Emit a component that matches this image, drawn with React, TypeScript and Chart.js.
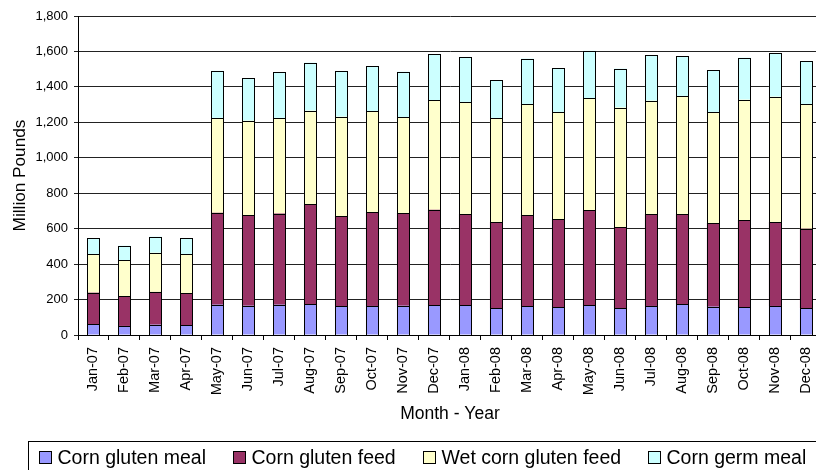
import React, { useEffect, useRef } from "react";
import { Chart, registerables } from "chart.js";

Chart.register(...registerables);

const categories = [
  "Jan-07", "Feb-07", "Mar-07", "Apr-07", "May-07", "Jun-07", "Jul-07", "Aug-07",
  "Sep-07", "Oct-07", "Nov-07", "Dec-07", "Jan-08", "Feb-08", "Mar-08", "Apr-08",
  "May-08", "Jun-08", "Jul-08", "Aug-08", "Sep-08", "Oct-08", "Nov-08", "Dec-08",
];

const cornGlutenMeal = [60, 51, 58, 55, 171, 165, 171, 175, 162, 164, 165, 169, 167, 152, 162, 156, 167, 152, 164, 175, 160, 158, 164, 151];
const cornGlutenFeed = [179, 169, 185, 182, 519, 512, 514, 562, 509, 530, 523, 538, 516, 486, 515, 499, 536, 457, 517, 506, 472, 491, 474, 449];
const wetCornGlutenFeed = [218, 203, 221, 218, 535, 532, 540, 529, 561, 570, 542, 617, 632, 585, 625, 602, 634, 674, 641, 668, 625, 679, 707, 702];
const cornGermMeal = [90, 81, 91, 91, 266, 241, 257, 271, 258, 252, 256, 262, 254, 216, 258, 248, 267, 220, 258, 225, 237, 237, 245, 242];

const yTicks = [0, 200, 400, 600, 800, 1000, 1200, 1400, 1600, 1800];

const FONT = "'Liberation Sans', Arial, sans-serif";

// crisp 1px outlines around every bar segment, taken from the bar elements Chart.js laid out
const outlinePlugin = {
  id: "barOutline",
  afterDatasetsDraw(chart: any) {
    const ctx = chart.ctx;
    ctx.save();
    ctx.strokeStyle = "#000";
    ctx.lineWidth = 1;
    chart.data.datasets.forEach((_: any, i: number) => {
      const meta = chart.getDatasetMeta(i);
      meta.data.forEach((el: any) => {
        const { x, y, base, width } = el.getProps(["x", "y", "base", "width"], true);
        const l = Math.round(x - width / 2) + 0.5;
        const r = Math.round(x + width / 2) - 0.5;
        const t = Math.round(Math.min(y, base)) + 0.5;
        const b = Math.round(Math.max(y, base)) + 0.5;
        ctx.strokeRect(l, t, r - l, b - t);
      });
    });
    ctx.restore();
  },
};

const legendPlugin = {
  id: "boxLegend",
  afterDraw(chart: any) {
    const ctx = chart.ctx;
    ctx.save();
    ctx.strokeStyle = "#000";
    ctx.lineWidth = 1;
    ctx.strokeRect(28.5, 441.5, chart.width, 60);
    ctx.font = `19.5px ${FONT}`;
    ctx.textBaseline = "alphabetic";
    ctx.textAlign = "left";
    let x = 39.5;
    chart.data.datasets.forEach((ds: any) => {
      ctx.fillStyle = ds.backgroundColor;
      ctx.fillRect(x, 451.5, 12, 12);
      ctx.strokeStyle = "#000";
      ctx.strokeRect(x, 451.5, 12, 12);
      ctx.fillStyle = "#000";
      const tx = x + 18;
      ctx.fillText(ds.label, tx, 464);
      const w = ctx.measureText(ds.label).width;
      x = Math.round(tx + w + 27) + 0.5;
    });
    ctx.restore();
  },
};

export default function App() {
  const ref = useRef<HTMLCanvasElement | null>(null);

  useEffect(() => {
    if (!ref.current) return;
    Chart.defaults.font.family = FONT;
    Chart.defaults.color = "#000";
    const common = {
      borderWidth: 0,
      inflateAmount: 0,
      barThickness: 13,
    };
    const chart = new Chart(ref.current, {
      type: "bar",
      data: {
        labels: categories,
        datasets: [
          { label: "Corn gluten meal", data: cornGlutenMeal, backgroundColor: "#9999FF", ...common },
          { label: "Corn gluten feed", data: cornGlutenFeed, backgroundColor: "#993366", ...common },
          { label: "Wet corn gluten feed", data: wetCornGlutenFeed, backgroundColor: "#FFFFCC", ...common },
          { label: "Corn germ meal", data: cornGermMeal, backgroundColor: "#CCFFFF", ...common },
        ],
      },
      options: {
        animation: false,
        responsive: false,
        maintainAspectRatio: false,
        layout: { padding: { left: 0, right: 9, top: 16, bottom: 40 } },
        plugins: { legend: { display: false }, tooltip: { enabled: false } },
        scales: {
          x: {
            stacked: true,
            grid: { display: true, drawOnChartArea: false, drawTicks: true, tickLength: 5, color: "#000", offset: true },
            border: { display: true, color: "#000", width: 1 },
            ticks: { maxRotation: 90, minRotation: 90, padding: 7, autoSkip: false, font: { size: 14.5 }, color: "#000" },
            title: { display: true, text: "Month - Year", font: { size: 17.5 }, color: "#000", padding: { top: 4, bottom: 5 } },
            afterFit: (scale: any) => { scale.height = 95; },
          },
          y: {
            stacked: true,
            min: 0,
            max: 1800,
            afterBuildTicks: (scale: any) => { scale.ticks = yTicks.map((v) => ({ value: v })); },
            grid: { color: "#222", lineWidth: 1, drawTicks: true, tickLength: 4 },
            border: { display: true, color: "#000", width: 1 },
            ticks: { padding: 6, font: { size: 13 }, color: "#000", callback: (v: any) => Number(v).toLocaleString("en-US") },
            title: { display: true, text: "Million Pounds", font: { size: 17.2 }, color: "#000", padding: { top: 10, bottom: 0 } },
            afterFit: (scale: any) => { scale.width = 78; },
          },
        },
      },
      plugins: [outlinePlugin, legendPlugin],
    });
    return () => chart.destroy();
  }, []);

  return (
    <div style={{ position: "fixed", left: 0, top: 0, width: 816, height: 470, overflow: "hidden", background: "#fff" }}>
      <canvas ref={ref} width={831} height={470} style={{ display: "block", width: 831, height: 470 }} />
    </div>
  );
}
